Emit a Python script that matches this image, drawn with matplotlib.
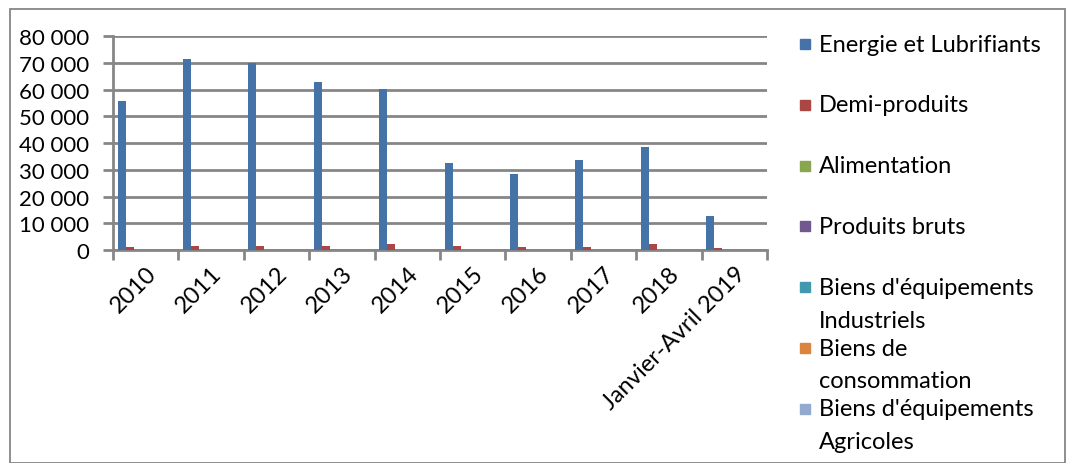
import numpy as np
import matplotlib.pyplot as plt
from matplotlib.patches import Rectangle

plt.rcParams['font.family'] = ['Lato', 'DejaVu Sans']

years = ['2010', '2011', '2012', '2013', '2014', '2015', '2016', '2017', '2018',
         'Janvier-Avril 2019']
series_names = ['Energie et Lubrifiants', 'Demi-produits', 'Alimentation',
                'Produits bruts', "Biens d'équipements\nIndustriels",
                'Biens de\nconsommation', "Biens d'équipements\nAgricoles"]
energie = [55700, 71400, 69900, 62800, 60200, 32500, 28400, 33600, 38500, 12700]
demi = [1000, 1500, 1500, 1500, 2200, 1500, 1100, 1300, 2300, 700]
alimentation = [100, 100, 100, 100, 100, 100, 100, 100, 100, 50]
bruts = [50, 50, 50, 50, 50, 50, 50, 50, 50, 20]
equip_ind = [80, 80, 80, 80, 80, 80, 80, 80, 80, 30]
consommation = [60, 60, 60, 60, 60, 60, 60, 60, 60, 20]
equip_agr = [20, 20, 20, 20, 20, 20, 20, 20, 20, 10]
values = [energie, demi, alimentation, bruts, equip_ind, consommation, equip_agr]
colors = ['#4572A7', '#AA4643', '#89A54E', '#71588F', '#4198AF', '#DB843D', '#93A9CF']

fig = plt.figure(figsize=(10.69, 4.64), dpi=100)
ax = fig.add_axes([0.1057, 0.459, 0.6118, 0.461])

n = len(values)
group = 0.86
w = group / n
x = np.arange(len(years))
for i, (vals, c) in enumerate(zip(values, colors)):
    ax.bar(x - group / 2 + w * (i + 0.5), vals, width=w, color=c, zorder=3)

ax.set_xlim(-0.5, len(years) - 0.5)
ax.set_ylim(0, 80000)
ax.set_yticks(range(0, 80001, 10000))
ax.set_yticklabels([f'{v:,}'.replace(',', ' ') for v in range(0, 80001, 10000)],
                   fontsize=16)
ax.set_xticks(x)
ax.set_xticklabels(years, rotation=45, ha='right', rotation_mode='anchor', fontsize=17)
ax.set_xticks(np.arange(-0.5, len(years)), minor=True)
ax.tick_params(axis='x', which='major', length=0, pad=9)
ax.tick_params(axis='x', which='minor', length=7, width=2, color='#868686')
ax.tick_params(axis='y', length=7, width=2, color='#868686', pad=10)
ax.grid(axis='y', color='#868686', linewidth=2, zorder=0)
for s in ['top', 'right']:
    ax.spines[s].set_visible(False)
for s in ['left', 'bottom']:
    ax.spines[s].set_color('#868686')
    ax.spines[s].set_linewidth(2)

# legend drawn by hand to keep Excel's fixed spacing
for i, (name, c) in enumerate(zip(series_names, colors)):
    yc = 45 + 60.8 * i
    fig.patches.append(Rectangle((800 / 1069, 1 - (yc + 5) / 464), 10 / 1069, 10 / 464,
                                 transform=fig.transFigure, color=c, figure=fig))
    for k, line in enumerate(name.split('\n')):
        fig.text(819 / 1069, 1 - (yc + 33 * k) / 464, line, fontsize=17,
                 va='center', ha='left')

fig.patches.append(Rectangle((10 / 1069, 0), 1 - 14 / 1069, 1 - 10 / 464,
                             transform=fig.transFigure, fill=False,
                             edgecolor='#868686', linewidth=1.3, figure=fig))

fig.savefig('out.png', dpi=100)
